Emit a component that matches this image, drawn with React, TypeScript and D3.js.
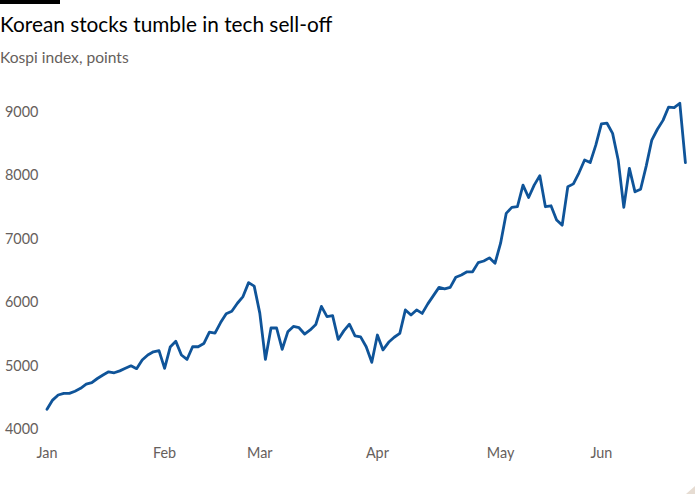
import React, { useEffect, useRef } from "react";
import * as d3 from "d3";

// KRX closed days on weekdays, Jan-Jun
const holidays = ["2026-01-01", "2026-02-16", "2026-02-17", "2026-02-18", "2026-03-02", "2026-05-01", "2026-05-05", "2026-05-25", "2026-06-03"];
const firstDay = "2026-01-02";
const lastDay = "2026-06-23";

// Kospi close, one value per trading day
const janValues = [4315, 4460, 4540, 4565, 4565, 4600, 4645, 4710, 4735, 4800, 4855, 4905, 4890, 4920, 4960, 5000, 4955, 5090, 5170, 5220, 5240];
const febValues = [4960, 5295, 5385, 5170, 5100, 5300, 5300, 5350, 5530, 5515, 5680, 5820, 5860, 5985, 6090, 6310, 6255];
const marValues = [5830, 5100, 5595, 5595, 5260, 5535, 5620, 5600, 5500, 5565, 5650, 5935, 5775, 5790, 5415, 5550, 5655, 5470, 5455, 5300, 5055];
const aprValues = [5485, 5250, 5370, 5450, 5510, 5880, 5800, 5880, 5825, 5975, 6105, 6235, 6210, 6235, 6395, 6430, 6480, 6480, 6625, 6650, 6700, 6615];
const mayValues = [6930, 7400, 7495, 7505, 7845, 7650, 7845, 7995, 7505, 7520, 7295, 7215, 7820, 7865, 8040, 8240, 8200, 8475];
const junValues = [8810, 8820, 8660, 8240, 7495, 8110, 7740, 7780, 8145, 8555, 8725, 8865, 9075, 9065, 9135, 8200];

const yTicks = [4000, 5000, 6000, 7000, 8000, 9000];

const title = "Korean stocks tumble in tech sell-off";
const subtitle = "Kospi index, points";

const FONT = "Lato, 'Noto Sans', sans-serif";
const GREY = "#66605c";
const BLUE = "#0f5499";

function KospiChart() {
  const chartRef = useRef<SVGSVGElement | null>(null);

  useEffect(() => {
    if (!chartRef.current) return;
    const svg = d3.select(chartRef.current);
    svg.selectAll("*").remove();

    const width = 700;
    const height = 500;

    const parse = d3.timeParse("%Y-%m-%d");
    const fmt = d3.timeFormat("%Y-%m-%d");
    const start = parse(firstDay) as Date;
    const end = d3.timeDay.offset(parse(lastDay) as Date, 1);
    const dates = d3.timeDay.range(start, end)
      .filter((d) => d.getDay() !== 0 && d.getDay() !== 6 && !holidays.includes(fmt(d)));

    const values = [...janValues, ...febValues, ...marValues, ...aprValues, ...mayValues, ...junValues];
    const data = dates.map((d, i) => ({ date: d, key: fmt(d), value: values[i] }))
      .filter((d) => d.value !== undefined);

    const x = d3.scalePoint<string>()
      .domain(data.map((d) => d.key))
      .range([47, 685.4]);

    const y = d3.scaleLinear()
      .domain([4000, 9000])
      .range([429.3, 111.8]);

    svg.append("rect")
      .attr("width", width)
      .attr("height", height)
      .attr("fill", "#ffffff");

    // black tag top left
    svg.append("rect")
      .attr("x", 0)
      .attr("y", 0)
      .attr("width", 60)
      .attr("height", 4)
      .attr("fill", "#000000");

    svg.append("text")
      .attr("x", 0)
      .attr("y", 32)
      .attr("font-family", FONT)
      .attr("font-size", 20.8)
      .attr("fill", "#000000")
      .text(title);

    svg.append("text")
      .attr("x", 0)
      .attr("y", 62.5)
      .attr("font-family", FONT)
      .attr("font-size", 15.6)
      .attr("fill", GREY)
      .text(subtitle);

    svg.append("g")
      .selectAll("text")
      .data(yTicks)
      .enter()
      .append("text")
      .attr("x", 5)
      .attr("y", (d) => y(d))
      .attr("dy", "0.35em")
      .attr("font-family", FONT)
      .attr("font-size", 14.4)
      .attr("fill", GREY)
      .text((d) => d3.format("d")(d));

    // first trading day of each month
    const monthStarts = data.filter((d, i) => i === 0 || d.date.getMonth() !== data[i - 1].date.getMonth());

    svg.append("g")
      .selectAll("text")
      .data(monthStarts)
      .enter()
      .append("text")
      .attr("x", (d) => x(d.key) as number)
      .attr("y", 458)
      .attr("text-anchor", "middle")
      .attr("font-family", FONT)
      .attr("font-size", 14.4)
      .attr("fill", GREY)
      .text((d) => d3.timeFormat("%b")(d.date));

    const line = d3.line<{ key: string; value: number }>()
      .x((d) => x(d.key) as number)
      .y((d) => y(d.value));

    svg.append("path")
      .datum(data)
      .attr("d", line)
      .attr("fill", "none")
      .attr("stroke", BLUE)
      .attr("stroke-width", 2.8)
      .attr("stroke-linejoin", "round")
      .attr("stroke-linecap", "round");

    // corner fold
    svg.append("path")
      .attr("d", "M695,486 L695,494 L686,494 Z")
      .attr("fill", "#e6dcd2");
  }, []);

  return (
    <svg
      ref={chartRef}
      width={700}
      height={500}
      style={{ position: "absolute", left: 0, top: 0, display: "block" }}
    />
  );
}

export default function App() {
  return <KospiChart />;
}
